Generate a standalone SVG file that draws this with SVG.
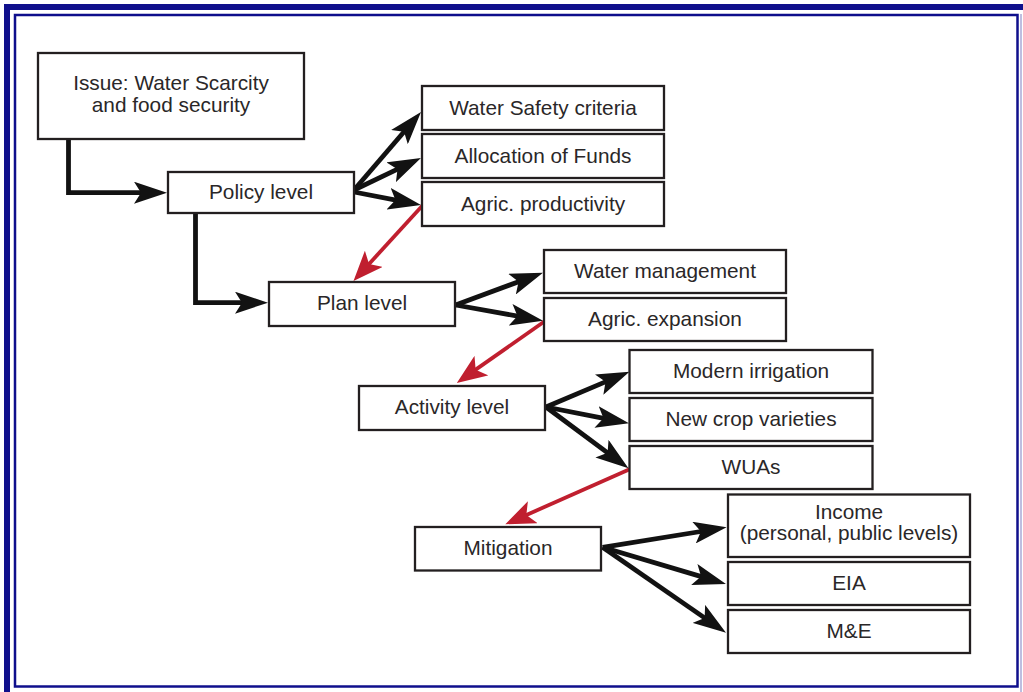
<svg xmlns="http://www.w3.org/2000/svg" width="1023" height="692" viewBox="0 0 1023 692">
<style>
.box{fill:#fff;stroke:#231f20;stroke-width:2.3}
.t{font-family:"Liberation Sans",Arial,sans-serif;font-size:20.8px;fill:#2a2728;text-anchor:middle}
.blk{fill:none;stroke:#121212;stroke-width:4.8;stroke-linejoin:miter;marker-end:url(#ab)}
.red{fill:none;stroke:#c01f2f;stroke-width:3.8;marker-end:url(#ar)}
.frame{fill:none;stroke:#0f0f8c}
</style>
<defs>
<marker id="ab" markerUnits="userSpaceOnUse" viewBox="0 0 33 22" markerWidth="33" markerHeight="22" refX="10" refY="11" orient="auto">
<path d="M0,0 L33,11 L0,22 L7,11 Z" fill="#121212"/>
</marker>
<marker id="ar" markerUnits="userSpaceOnUse" viewBox="0 0 30 24" markerWidth="30" markerHeight="24" refX="10" refY="12" orient="auto">
<path d="M0,0 L30,12 L0,24 L7,12 Z" fill="#c01f2f"/>
</marker>
</defs>
<rect width="1023" height="692" fill="#fff"/>
<g id="frame">
<path class="frame" d="M7,692 V7 H1023" stroke-width="6"/>
<rect class="frame" x="15" y="15" width="1002.5" height="671.5" stroke-width="2.5"/>
<line x1="1021" y1="14" x2="1021" y2="692" stroke="#a9a9d6" stroke-width="1.5"/>
</g>
<g id="connectors">
<path class="blk" d="M68.5,139 V192.7 H144"/>
<path class="blk" d="M195.5,213 V302.7 H245"/>
<path class="blk" d="M354,190 L406,129.5"/>
<path class="blk" d="M354,190 L400.2,167.9"/>
<path class="blk" d="M354,192 L398.4,200.6"/>
<path class="red" d="M423,205 L367,266.2"/>
<path class="blk" d="M455.6,305 L521.4,280.7"/>
<path class="blk" d="M455.6,305 L520.4,316.6"/>
<path class="red" d="M544,321.7 L473.2,371.4"/>
<path class="blk" d="M546,407 L608.3,380.65"/>
<path class="blk" d="M546,407 L606.4,418.9"/>
<path class="blk" d="M546,407 L610,454.6"/>
<path class="red" d="M629.6,469.3 L523.6,516.2"/>
<path class="blk" d="M602.6,547.3 L703.9,531"/>
<path class="blk" d="M602.6,547.3 L703.9,577.4"/>
<path class="blk" d="M602.6,547.3 L707.1,619.6"/>
</g>
<g id="issue"><rect class="box" x="38" y="53" width="266" height="86"/><text class="t" x="171" y="90">Issue: Water Scarcity</text><text class="t" x="171" y="111.5">and food security</text></g>
<g id="policy"><rect class="box" x="168" y="172" width="186" height="41"/><text class="t" x="261" y="198.5">Policy level</text></g>
<g id="water-safety"><rect class="box" x="422" y="86" width="242" height="44"/><text class="t" x="543" y="115">Water Safety criteria</text></g>
<g id="allocation"><rect class="box" x="422" y="134" width="242" height="44"/><text class="t" x="543" y="163">Allocation of Funds</text></g>
<g id="agric-productivity"><rect class="box" x="422" y="182" width="242" height="44"/><text class="t" x="543" y="211">Agric. productivity</text></g>
<g id="plan"><rect class="box" x="269" y="282" width="186" height="44"/><text class="t" x="362" y="310">Plan level</text></g>
<g id="water-management"><rect class="box" x="544" y="250" width="242" height="43"/><text class="t" x="665" y="278">Water management</text></g>
<g id="agric-expansion"><rect class="box" x="544" y="298" width="242" height="43"/><text class="t" x="665" y="326">Agric. expansion</text></g>
<g id="activity"><rect class="box" x="359" y="386" width="186" height="44"/><text class="t" x="452" y="414">Activity level</text></g>
<g id="modern-irrigation"><rect class="box" x="629.5" y="350" width="243" height="43"/><text class="t" x="751" y="378">Modern irrigation</text></g>
<g id="new-crop"><rect class="box" x="629.5" y="398" width="243" height="43"/><text class="t" x="751" y="426">New crop varieties</text></g>
<g id="wuas"><rect class="box" x="629.5" y="446" width="243" height="43"/><text class="t" x="751" y="474">WUAs</text></g>
<g id="mitigation"><rect class="box" x="415" y="527" width="186" height="43.5"/><text class="t" x="508" y="555">Mitigation</text></g>
<g id="income"><rect class="box" x="728" y="494.5" width="242" height="62.5"/><text class="t" x="849" y="518.5">Income</text><text class="t" x="849" y="540">(personal, public levels)</text></g>
<g id="eia"><rect class="box" x="728" y="562" width="242" height="43"/><text class="t" x="849" y="590">EIA</text></g>
<g id="me"><rect class="box" x="728" y="610" width="242" height="43"/><text class="t" x="849" y="638">M&amp;E</text></g>
</svg>
